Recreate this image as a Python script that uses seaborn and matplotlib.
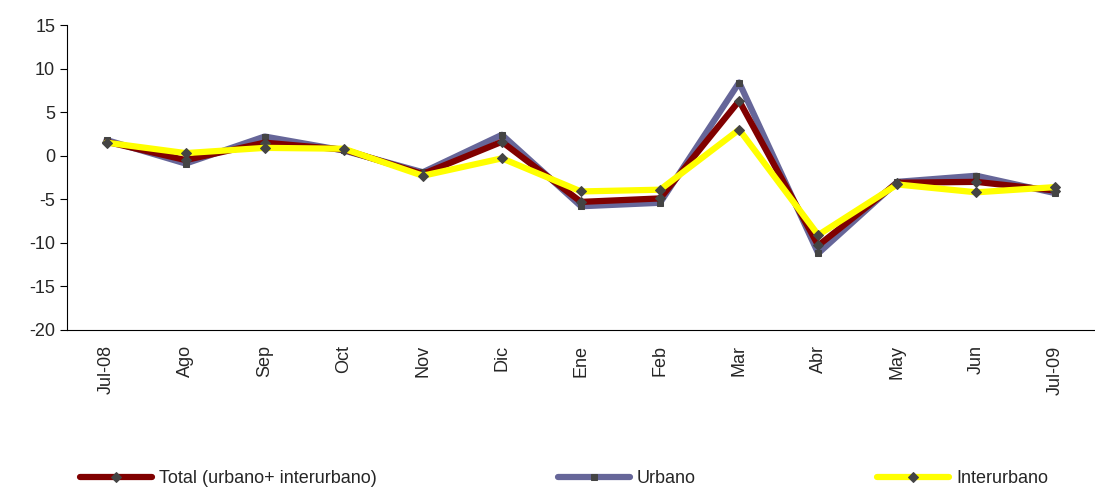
import matplotlib
matplotlib.use("Agg")
import matplotlib.pyplot as plt
import seaborn as sns
import pandas as pd

months = ["Jul-08", "Ago", "Sep", "Oct", "Nov", "Dic", "Ene", "Feb", "Mar", "Abr", "May", "Jun", "Jul-09"]
total = [1.6, -0.5, 1.5, 0.7, -2.1, 1.6, -5.3, -4.9, 6.3, -10.3, -3.1, -3.0, -4.0]
urbano = [1.8, -0.9, 2.2, 0.6, -1.9, 2.4, -5.8, -5.4, 8.4, -11.2, -3.0, -2.3, -4.3]
interurbano = [1.5, 0.3, 0.9, 0.8, -2.3, -0.3, -4.1, -3.9, 3.0, -9.1, -3.3, -4.2, -3.6]

sns.set_style("white")
plt.rcParams['font.family'] = ['Liberation Sans', 'DejaVu Sans']
plt.rcParams['axes.unicode_minus'] = False

df = pd.DataFrame({"x": range(len(months)), "total": total, "urbano": urbano, "inter": interurbano})

fig = plt.figure(figsize=(10.95, 4.91), dpi=100)
ax = fig.add_axes([67 / 1095, 1 - 330 / 491, 1028 / 1095, 305 / 491])

series = [
    ("urbano", "Urbano", "#666699", "s"),
    ("total", "Total (urbano+ interurbano)", "#800000", "D"),
    ("inter", "Interurbano", "#FFFF00", "D"),
]
handles = {}
for col, label, color, mk in series:
    sns.lineplot(data=df, x="x", y=col, ax=ax, color=color, linewidth=4.5,
                 marker=mk, markersize=5, markerfacecolor="#444444",
                 markeredgecolor="#444444", label=label, legend=False)
    handles[label] = ax.lines[-1]

ax.set_xlim(-0.5, -0.5 + 1028 / 80)
ax.set_ylim(-20, 15)
ax.set_yticks(range(-20, 16, 5))
ax.set_xticks(range(len(months)))
ax.set_xticklabels(months, rotation=90, fontsize=13)
ax.set_xticks([i + 0.5 for i in range(-1, len(months))], minor=True)
ax.tick_params(axis="x", which="major", length=0, pad=11)
ax.tick_params(axis="x", which="minor", length=6, color="black", direction="out")
ax.tick_params(axis="y", labelsize=13, length=5, color="black", direction="out", left=True)
ax.set_xlabel("")
ax.set_ylabel("")
for s in ["top", "right"]:
    ax.spines[s].set_visible(False)
for s in ["left", "bottom"]:
    ax.spines[s].set_color("black")

order = ["Total (urbano+ interurbano)", "Urbano", "Interurbano"]
fig.legend([handles[k] for k in order], order, loc="lower center", ncol=3,
           bbox_to_anchor=(0.515, -0.025), frameon=False, fontsize=13,
           handlelength=4, handletextpad=0.4, columnspacing=10)

fig.savefig("out.png", dpi=100)
